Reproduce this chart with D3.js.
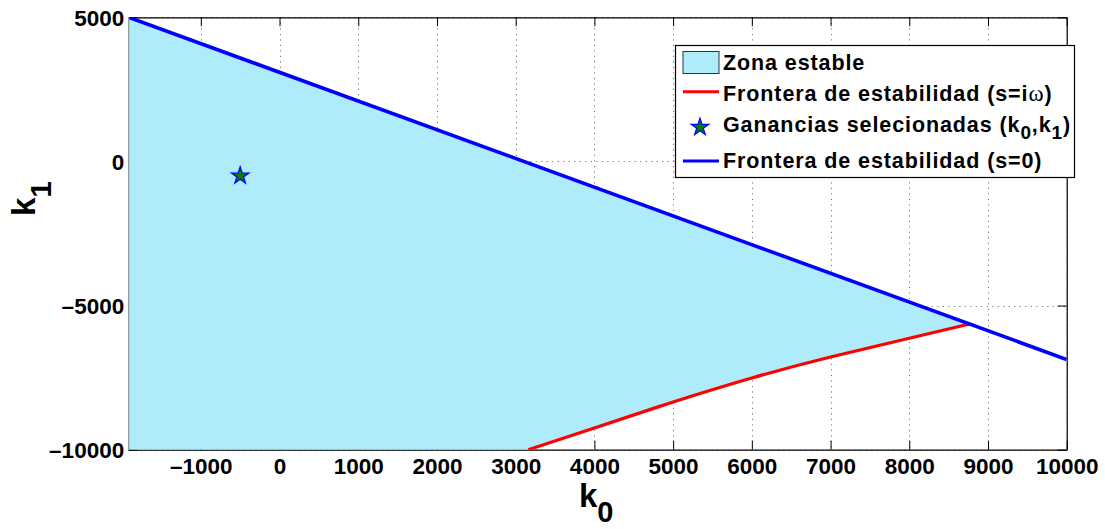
<!DOCTYPE html>
<html>
<head>
<meta charset="utf-8">
<script src="https://cdn.jsdelivr.net/npm/d3@7"></script>
<style>
  html, body { margin: 0; padding: 0; background: #fff; }
  svg { display: block; font-family: "Liberation Sans", Arial, Helvetica, sans-serif; }
</style>
</head>
<body>
<svg id="chart" width="1105" height="529"></svg>
<script>
// Axis limits
const k0Limits = [-1916, 10000];
const k1Limits = [-10000, 5000];

// Tick values
const k0Ticks = [-1000, 0, 1000, 2000, 3000, 4000, 5000, 6000, 7000, 8000, 9000, 10000];
const k1Ticks = [-10000, -5000, 0, 5000];

// Stability boundary for s = 0 (straight line)
const zeroK0 = [-1916, 10000];
const zeroK1 = [5000, -6870];

// Stability boundary for s = iω
const omegaK0 = [3160, 4000, 5000, 6000, 7000, 8000, 8765];
const omegaK1 = [-10000, -9248, -8345, -7510, -6785, -6135, -5640];

// Selected gains (k0, k1)
const gainK0 = [-500];
const gainK1 = [-500];

const svg = d3.select("#chart");
const plot = { left: 128.7, right: 1066.7, top: 17.3, bottom: 449.7 };

const x = d3.scaleLinear().domain(k0Limits).range([plot.left, plot.right]);
const y = d3.scaleLinear().domain(k1Limits).range([plot.bottom, plot.top]);

const fmt = v => (v < 0 ? "\u2013" + Math.abs(v) : String(v));

svg.append("defs").append("clipPath").attr("id", "plotClip")
  .append("rect")
  .attr("x", plot.left).attr("y", plot.top)
  .attr("width", plot.right - plot.left).attr("height", plot.bottom - plot.top);

// Dotted grid
const grid = svg.append("g").attr("stroke", "#7a7a7a").attr("stroke-width", 1)
  .attr("stroke-dasharray", "1.2,4.3");
grid.selectAll("line.vx").data(k0Ticks).join("line")
  .attr("x1", d => Math.round(x(d)) + 0.5).attr("x2", d => Math.round(x(d)) + 0.5)
  .attr("y1", plot.top).attr("y2", plot.bottom);
grid.selectAll("line.hy").data(k1Ticks).join("line")
  .attr("x1", plot.left).attr("x2", plot.right)
  .attr("y1", d => Math.round(y(d)) + 0.5).attr("y2", d => Math.round(y(d)) + 0.5);

// Axes box with inward ticks (top/right mirror bottom/left)
const tickLen = 9;
const axisBottom = d3.axisBottom(x).tickValues(k0Ticks).tickSizeInner(-tickLen).tickSizeOuter(0).tickFormat(fmt);
const axisTop = d3.axisTop(x).tickValues(k0Ticks).tickSizeInner(-tickLen).tickSizeOuter(0).tickFormat("");
const axisLeft = d3.axisLeft(y).tickValues(k1Ticks).tickSizeInner(-tickLen).tickSizeOuter(0).tickFormat(fmt);
const axisRight = d3.axisRight(y).tickValues(k1Ticks).tickSizeInner(-tickLen).tickSizeOuter(0).tickFormat("");

function styleAxis(g) {
  g.select(".domain").attr("stroke", "#000").attr("stroke-width", 1.2);
  g.selectAll(".tick line").attr("stroke", "#000").attr("stroke-width", 1);
  g.selectAll(".tick text").attr("fill", "#000")
    .attr("font-family", "'Liberation Sans', Arial, sans-serif")
    .attr("font-weight", "bold").attr("font-size", "22.5px");
}

const gB = svg.append("g").attr("transform", `translate(0,${plot.bottom})`).call(axisBottom).call(styleAxis);
gB.selectAll(".tick text").attr("y", 0).attr("dy", null).attr("transform", "translate(0,24.6)")
  .attr("dominant-baseline", "alphabetic");
svg.append("g").attr("transform", `translate(0,${plot.top})`).call(axisTop).call(styleAxis);
const gL = svg.append("g").attr("transform", `translate(${plot.left},0)`).call(axisLeft).call(styleAxis);
gL.selectAll(".tick text").attr("x", -4.5).attr("dy", null).attr("y", 8)
  .attr("dominant-baseline", "alphabetic").attr("text-anchor", "end");
svg.append("g").attr("transform", `translate(${plot.right},0)`).call(axisRight).call(styleAxis);

// Stable region and boundaries
const plotArea = svg.append("g").attr("clip-path", "url(#plotClip)");

const omegaPts = omegaK0.map((k, i) => [k, omegaK1[i]]);
const omegaLine = d3.line().x(d => x(d[0])).y(d => y(d[1])).curve(d3.curveNatural);

// Region: along the s=iω curve up to the s=0 line, back along it to the corner, then down the left edge
const fillPath = omegaLine(omegaPts)
  + `L${x(zeroK0[0])},${y(zeroK1[0])}`
  + `L${x(k0Limits[0])},${y(k1Limits[0])}Z`;

plotArea.append("path").attr("d", fillPath).attr("fill", "#aeebfb").attr("stroke", "none");

// Left edge of the region
svg.append("line")
  .attr("x1", plot.left).attr("x2", plot.left)
  .attr("y1", plot.top).attr("y2", plot.bottom)
  .attr("stroke", "#9a9a9a").attr("stroke-width", 1.2);

plotArea.append("path").attr("d", omegaLine(omegaPts))
  .attr("fill", "none").attr("stroke", "#ff0000").attr("stroke-width", 3.2);

const zeroPts = zeroK0.map((k, i) => [k, zeroK1[i]]);
plotArea.append("path")
  .attr("d", d3.line().x(d => x(d[0])).y(d => y(d[1]))(zeroPts))
  .attr("fill", "none").attr("stroke", "#0000ff").attr("stroke-width", 3.6);

const star = d3.symbol().type(d3.symbolStar).size(95);
plotArea.selectAll("path.gain").data(gainK0.map((k, i) => [k, gainK1[i]])).join("path")
  .attr("class", "gain")
  .attr("d", star)
  .attr("transform", d => `translate(${x(d[0])},${y(d[1])})`)
  .attr("fill", "#008000").attr("stroke", "#0000ff").attr("stroke-width", 1.2);

// Axis labels
const labelFont = "'Liberation Sans', Arial, sans-serif";
const xl = svg.append("text").attr("x", 579).attr("y", 507)
  .attr("font-family", labelFont).attr("font-weight", "bold").attr("font-size", "33px");
xl.append("tspan").text("k");
xl.append("tspan").attr("dy", 15).attr("font-size", "29px").text("0");

const yl = svg.append("text").attr("transform", "translate(35,216) rotate(-90)")
  .attr("font-family", labelFont).attr("font-weight", "bold").attr("font-size", "33px");
yl.append("tspan").text("k");
yl.append("tspan").attr("dy", 16).attr("font-size", "30px").text("1");

// Legend
const lg = svg.append("g");
lg.append("rect").attr("x", 675.5).attr("y", 45.5).attr("width", 399).attr("height", 132)
  .attr("fill", "#fff").attr("stroke", "#000").attr("stroke-width", 1.2);

function legendText(yBase) {
  return lg.append("text").attr("x", 723).attr("y", yBase)
    .attr("font-family", labelFont).attr("font-weight", "bold")
    .attr("font-size", "21.5px").attr("letter-spacing", "0.9px").attr("fill", "#000");
}

lg.append("rect").attr("x", 683).attr("y", 51.5).attr("width", 36).attr("height", 22)
  .attr("fill", "#aeebfb").attr("stroke", "#333").attr("stroke-width", 1);
legendText(70).text("Zona estable");

lg.append("line").attr("x1", 683).attr("x2", 719).attr("y1", 91.7).attr("y2", 91.7)
  .attr("stroke", "#ff0000").attr("stroke-width", 3);
const t2 = legendText(100.5);
t2.append("tspan").text("Frontera de estabilidad (s=i");
t2.append("tspan").attr("font-family", "'Liberation Serif', 'DejaVu Serif', serif")
  .attr("font-weight", "normal").attr("font-size", "23px").text("\u03c9");
t2.append("tspan").text(")");

lg.append("path").attr("d", star).attr("transform", "translate(700,127.3)")
  .attr("fill", "#008000").attr("stroke", "#0000ff").attr("stroke-width", 1.2);
const t3 = legendText(131.5);
t3.append("tspan").text("Ganancias selecionadas (k");
t3.append("tspan").attr("dy", 7).attr("font-size", "19px").text("0");
t3.append("tspan").attr("dy", -7).text(",k");
t3.append("tspan").attr("dy", 7).attr("font-size", "19px").text("1");
t3.append("tspan").attr("dy", -7).text(")");

lg.append("line").attr("x1", 683).attr("x2", 719).attr("y1", 161).attr("y2", 161)
  .attr("stroke", "#0000ff").attr("stroke-width", 3);
legendText(168).text("Frontera de estabilidad (s=0)");
</script>
</body>
</html>
